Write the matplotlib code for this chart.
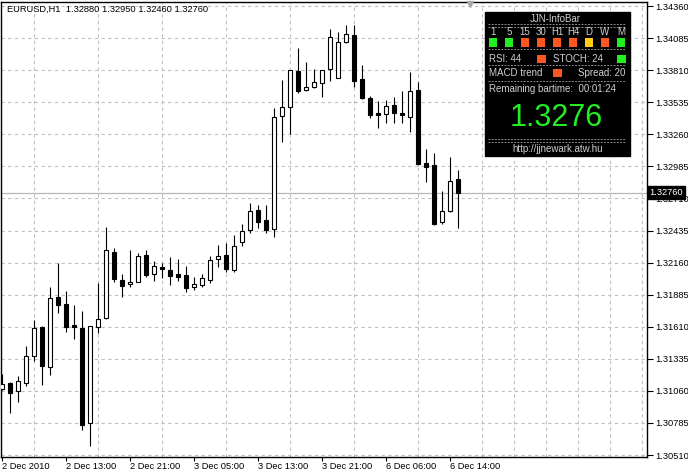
import numpy as np
import matplotlib.pyplot as plt
import matplotlib.transforms as mtransforms
from matplotlib.patches import Rectangle

plt.rcParams['font.family'] = ['Liberation Sans', 'DejaVu Sans']

# EURUSD H1 candles
opens = [1.31076, 1.31127, 1.31059, 1.31127, 1.31359, 1.31608, 1.31265, 1.31865, 1.31805, 1.31625,
         1.31599, 1.30784, 1.31608, 1.31685, 1.32251, 1.32011, 1.31976, 1.31994, 1.32225, 1.32062,
         1.32122, 1.32097, 1.32062, 1.32054, 1.31951, 1.31968, 1.32011, 1.32191, 1.32225, 1.32097,
         1.32337, 1.32440, 1.32611, 1.32525, 1.32448, 1.33417, 1.33494, 1.33803, 1.33640, 1.33666,
         1.33700, 1.33820, 1.33743, 1.34052, 1.34112, 1.33735, 1.33572, 1.33443, 1.33434, 1.33512,
         1.33443, 1.33409, 1.33640, 1.33014, 1.32997, 1.32508, 1.32603, 1.32880]
highs = [1.31205, 1.31136, 1.31188, 1.31445, 1.31668, 1.31616, 1.31951, 1.32157, 1.31916, 1.31796,
         1.31745, 1.31620, 1.31985, 1.32465, 1.32285, 1.32062, 1.32268, 1.32242, 1.32268, 1.32174,
         1.32157, 1.32208, 1.32191, 1.32131, 1.32037, 1.32062, 1.32217, 1.32311, 1.32328, 1.32397,
         1.32491, 1.32671, 1.32654, 1.32654, 1.33486, 1.33726, 1.33815, 1.34000, 1.33880, 1.33820,
         1.33815, 1.34163, 1.34138, 1.34198, 1.34198, 1.33855, 1.33589, 1.33546, 1.33554, 1.33580,
         1.33632, 1.33795, 1.33709, 1.33134, 1.33100, 1.32774, 1.33066, 1.32950]
lows = [1.31067, 1.30870, 1.30965, 1.31102, 1.31316, 1.31110, 1.31196, 1.31728, 1.31565, 1.31505,
        1.30724, 1.30587, 1.31556, 1.31680, 1.31994, 1.31865, 1.31951, 1.31990, 1.32037, 1.32002,
        1.32028, 1.31968, 1.32002, 1.31908, 1.31925, 1.31951, 1.31985, 1.32122, 1.32079, 1.32079,
        1.32302, 1.32414, 1.32457, 1.32414, 1.32380, 1.33194, 1.33263, 1.33615, 1.33632, 1.33657,
        1.33580, 1.33717, 1.33740, 1.34043, 1.33666, 1.33563, 1.33400, 1.33314, 1.33357, 1.33357,
        1.33357, 1.33280, 1.33000, 1.32851, 1.32482, 1.32491, 1.32594, 1.32460]
closes = [1.31119, 1.31042, 1.31145, 1.31359, 1.31599, 1.31273, 1.31856, 1.31796, 1.31608, 1.31608,
          1.30767, 1.31616, 1.31676, 1.32268, 1.32019, 1.31959, 1.31994, 1.32217, 1.32054, 1.32131,
          1.32105, 1.32045, 1.32037, 1.31942, 1.31976, 1.32028, 1.32182, 1.32217, 1.32105, 1.32302,
          1.32431, 1.32603, 1.32508, 1.32440, 1.33409, 1.33494, 1.33812, 1.33632, 1.33666, 1.33709,
          1.33812, 1.34095, 1.34052, 1.34120, 1.33717, 1.33572, 1.33426, 1.33426, 1.33503, 1.33443,
          1.33426, 1.33632, 1.33006, 1.32980, 1.32491, 1.32603, 1.32860, 1.32760]

date_labels = ["2 Dec 2010", "2 Dec 13:00", "2 Dec 21:00", "3 Dec 05:00",
               "3 Dec 13:00", "3 Dec 21:00", "6 Dec 06:00", "6 Dec 14:00"]
label_bars = [0, 8, 16, 24, 32, 40, 48, 56]
price_ticks = [1.30510, 1.30785, 1.31060, 1.31335, 1.31610, 1.31885, 1.32160, 1.32435,
               1.32710, 1.32985, 1.33260, 1.33535, 1.33810, 1.34085, 1.34360]

# info bar contents
tf_names = ["1", "5", "15", "30", "H1", "H4", "D", "W", "M"]
tf_colors = ["green", "green", "red", "red", "red", "red", "yellow", "red", "green"]
rsi_value = 44
stoch_value = 24
spread_value = 20
bartime = "00:01:24"

palette = {"green": "#22ee22", "red": "#ff5522", "yellow": "#ffcc11"}
fs = 6.7

o = np.array(opens); h = np.array(highs); l = np.array(lows); c = np.array(closes)
x = np.arange(len(o))
up = c >= o

fig = plt.figure(figsize=(6.88, 4.72), dpi=100)
ax = fig.add_axes([1/688, 15/472, 646/688, 455/472])

ax.axhline(c[-1], color='#b8b8b8', lw=0.9, zorder=1)
ax.vlines(x, l, h, color='black', lw=0.8, zorder=3)
body = np.maximum(np.abs(c - o), 0.00005)
ax.bar(x, body, bottom=np.minimum(o, c), width=0.6,
       color=np.where(up, 'white', 'black'), edgecolor='black', linewidth=0.8, zorder=4)

ax.set_xlim(-0.125, 80.625)
ax.set_ylim(1.30493, 1.34395)

ax.set_xticks(label_bars)
ax.set_xticklabels(date_labels, fontsize=fs)
for t in ax.get_xticklabels():
    t.set_ha('left')
ax.set_xticks(np.arange(0, 81, 4), minor=True)
ax.tick_params(axis='x', which='major', direction='out', length=3, width=0.8, pad=0.5)
ax.tick_params(axis='x', which='minor', length=0)

ax.yaxis.tick_right()
ax.set_yticks(price_ticks)
ax.set_yticklabels(["%.5f" % p for p in price_ticks], fontsize=fs)
ax.tick_params(axis='y', direction='out', length=4, width=0.8, pad=2)

ax.xaxis.grid(True, which='minor', linestyle=(0, (3, 3)), color='#c0c0c0', lw=0.8)
ax.yaxis.grid(True, which='major', linestyle=(0, (3, 3)), color='#c0c0c0', lw=0.8)
ax.set_axisbelow(True)
for s in ax.spines.values():
    s.set_color('black')
    s.set_linewidth(1)

# current price label on the price scale
trans = mtransforms.blended_transform_factory(ax.transAxes, ax.transData)
ax.text(1.004, c[-1], "%.5f" % c[-1], transform=trans, fontsize=fs, color='white',
        va='center', ha='left', clip_on=False, zorder=10,
        bbox=dict(boxstyle='square,pad=0.2', fc='black', ec='black'))

# overlay in pixel units for header and info bar
ov = fig.add_axes([0, 0, 1, 1], zorder=5)
ov.set_xlim(0, 688)
ov.set_ylim(472, 0)
ov.axis('off')

ov.text(7, 9, "%s  %.5f %.5f %.5f %.5f" % ("EURUSD,H1", o[-1], h[-1], l[-1], c[-1]),
        fontsize=fs, va='center', ha='left', color='black')
ov.plot(470, 4, marker='v', color='#a8a8a8', ms=4)

txt = '#cfcfcf'
ov.add_patch(Rectangle((485, 12), 145, 144, fc='black', ec='black'))
ov.text(555, 19, "JJN-InfoBar", fontsize=7, color=txt, ha='center', va='center')
for yy in [24, 26.5, 49, 65, 81, 139, 141.5]:
    ov.plot([488, 626], [yy, yy], color='#8a8a8a', lw=0.7, linestyle=(0, (2, 1.3)))

tf_x = [493, 509, 525, 541, 557, 573, 589, 605, 621]
for name, cx, col in zip(tf_names, tf_x, tf_colors):
    ov.text(cx, 32, name, fontsize=7, color=txt, ha='center', va='center')
    ov.add_patch(Rectangle((cx - 4, 38), 8, 8.5, fc=palette[col], ec='none'))

ov.text(489, 59, "RSI: %d" % rsi_value, fontsize=7, color=txt, ha='left', va='center')
ov.add_patch(Rectangle((537, 54.5), 8.5, 8.5, fc=palette["red"], ec='none'))
ov.text(553, 59, "STOCH: %d" % stoch_value, fontsize=7, color=txt, ha='left', va='center')
ov.add_patch(Rectangle((617, 54.5), 8.5, 8.5, fc=palette["green"], ec='none'))

ov.text(489, 73, "MACD trend", fontsize=7, color=txt, ha='left', va='center')
ov.add_patch(Rectangle((553, 68.5), 8.5, 8.5, fc=palette["red"], ec='none'))
ov.text(625, 73, "Spread: %d" % spread_value, fontsize=7, color=txt, ha='right', va='center')

ov.text(489, 89, "Remaining bartime:  " + bartime, fontsize=7, color=txt, ha='left', va='center')
ov.text(556, 118, "%.4f" % c[-1], fontsize=22, color=palette["green"], ha='center', va='center')
ov.text(558, 149, "http://jjnewark.atw.hu", fontsize=7, color=txt, ha='center', va='center')

fig.savefig("out.png", dpi=100)
